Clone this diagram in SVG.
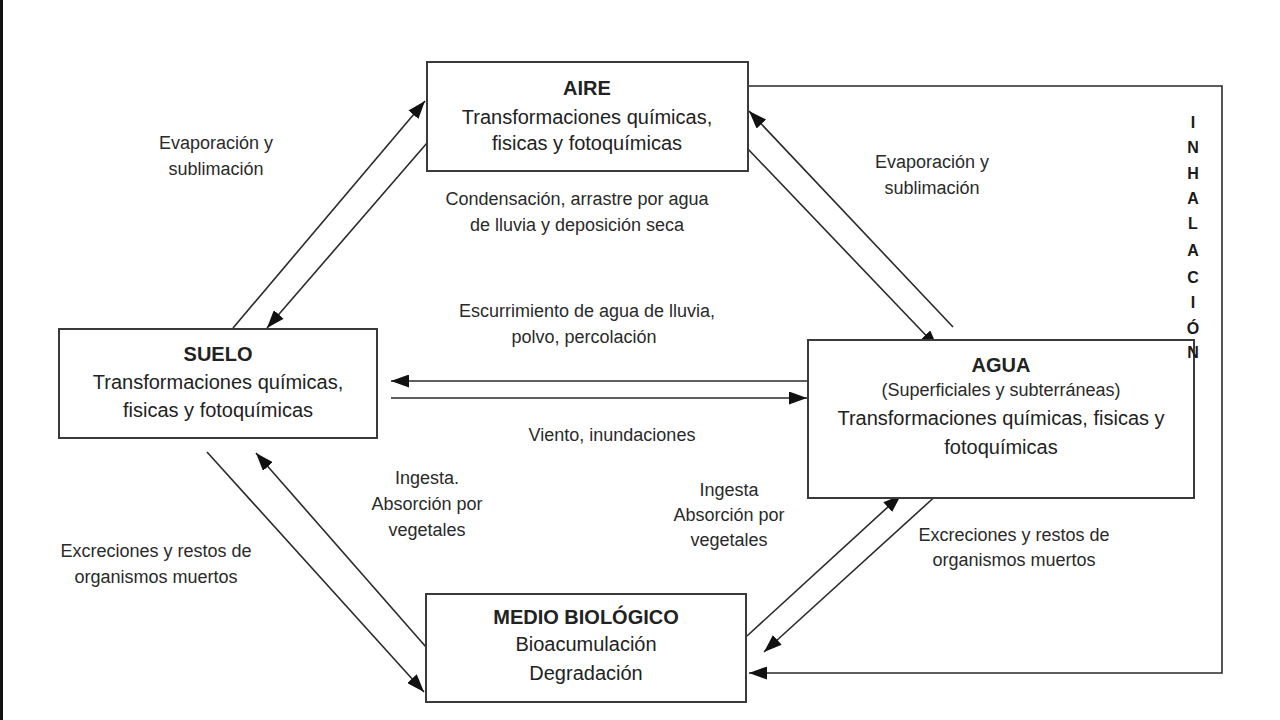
<svg xmlns="http://www.w3.org/2000/svg" width="1280" height="720" viewBox="0 0 1280 720">
<defs>
<style>
.box{fill:#fff;stroke:#3a3a3a;stroke-width:2}
.t{font-family:"Liberation Sans",Arial,sans-serif;font-size:20px;fill:#222;text-anchor:middle}
.b{font-weight:bold}
.l{font-family:"Liberation Sans",Arial,sans-serif;font-size:18px;fill:#2a2a2a;text-anchor:middle}
.v{font-family:"Liberation Sans",Arial,sans-serif;font-size:16px;font-weight:bold;fill:#1a1a1a;text-anchor:middle}
.c{fill:none;stroke:#2a2a2a;stroke-width:1.6}
</style>
<marker id="ah" viewBox="0 0 18 13" refX="18" refY="6.5" markerWidth="18" markerHeight="13" orient="auto" markerUnits="userSpaceOnUse">
<path d="M0,0 L18,6.5 L0,13 z" fill="#111"/>
</marker>
</defs>
<rect width="1280" height="720" fill="#fff"/>
<rect x="0" y="0" width="3" height="720" fill="#111"/>

<g id="connectors">
<path class="c" d="M233,328 L425,101" marker-end="url(#ah)"/>
<path class="c" d="M427,143 L267,328" marker-end="url(#ah)"/>
<path class="c" d="M747,148 L938,348" marker-end="url(#ah)"/>
<path class="c" d="M953,327 L749,111" marker-end="url(#ah)"/>
<path class="c" d="M808,381 L391,381" marker-end="url(#ah)"/>
<path class="c" d="M391,398 L807,398" marker-end="url(#ah)"/>
<path class="c" d="M207,452 L424,692" marker-end="url(#ah)"/>
<path class="c" d="M426,647 L256,453" marker-end="url(#ah)"/>
<path class="c" d="M747,636 L901,495" marker-end="url(#ah)"/>
<path class="c" d="M940,492 L764,652" marker-end="url(#ah)"/>
<path class="c" d="M748,86 L1222,86 L1222,673 L749,673" marker-end="url(#ah)"/>
</g>

<g id="aire">
<rect class="box" x="427" y="62" width="321" height="109"/>
<text class="t b" x="587" y="95">AIRE</text>
<text class="t" x="587" y="124">Transformaciones químicas,</text>
<text class="t" x="587" y="150">fisicas y fotoquímicas</text>
</g>

<g id="suelo">
<rect class="box" x="59" y="329" width="318" height="109"/>
<text class="t b" x="218" y="361">SUELO</text>
<text class="t" x="218" y="389">Transformaciones químicas,</text>
<text class="t" x="218" y="417">fisicas y fotoquímicas</text>
</g>

<g id="agua">
<rect class="box" x="808" y="340" width="386" height="158"/>
<text class="t b" x="1001" y="372">AGUA</text>
<text class="l" x="1001" y="396">(Superficiales y subterráneas)</text>
<text class="t" x="1001" y="425">Transformaciones químicas, fisicas y</text>
<text class="t" x="1001" y="454">fotoquímicas</text>
</g>

<g id="medio">
<rect class="box" x="426" y="594" width="320" height="108"/>
<text class="t b" x="586" y="624">MEDIO BIOLÓGICO</text>
<text class="t" x="586" y="651">Bioacumulación</text>
<text class="t" x="586" y="680">Degradación</text>
</g>

<g id="labels">
<text class="l" x="216" y="149">Evaporación y</text>
<text class="l" x="216" y="175">sublimación</text>
<text class="l" x="577" y="205">Condensación, arrastre por agua</text>
<text class="l" x="577" y="231">de lluvia y deposición seca</text>
<text class="l" x="587" y="317">Escurrimiento de agua de lluvia,</text>
<text class="l" x="584" y="343">polvo, percolación</text>
<text class="l" x="612" y="441">Viento, inundaciones</text>
<text class="l" x="932" y="168">Evaporación y</text>
<text class="l" x="932" y="194">sublimación</text>
<text class="l" x="427" y="484">Ingesta.</text>
<text class="l" x="427" y="510">Absorción por</text>
<text class="l" x="427" y="536">vegetales</text>
<text class="l" x="729" y="496">Ingesta</text>
<text class="l" x="729" y="521">Absorción por</text>
<text class="l" x="729" y="546">vegetales</text>
<text class="l" x="156" y="557">Excreciones y restos de</text>
<text class="l" x="156" y="583">organismos muertos</text>
<text class="l" x="1014" y="541">Excreciones y restos de</text>
<text class="l" x="1014" y="566">organismos muertos</text>
</g>

<g id="inhalacion">
<text class="v" x="1193" y="128">I</text>
<text class="v" x="1193" y="153">N</text>
<text class="v" x="1193" y="179">H</text>
<text class="v" x="1193" y="204">A</text>
<text class="v" x="1193" y="229">L</text>
<text class="v" x="1193" y="256">A</text>
<text class="v" x="1193" y="283">C</text>
<text class="v" x="1193" y="308">I</text>
<text class="v" x="1193" y="334">Ó</text>
<text class="v" x="1193" y="358">N</text>
</g>
</svg>
